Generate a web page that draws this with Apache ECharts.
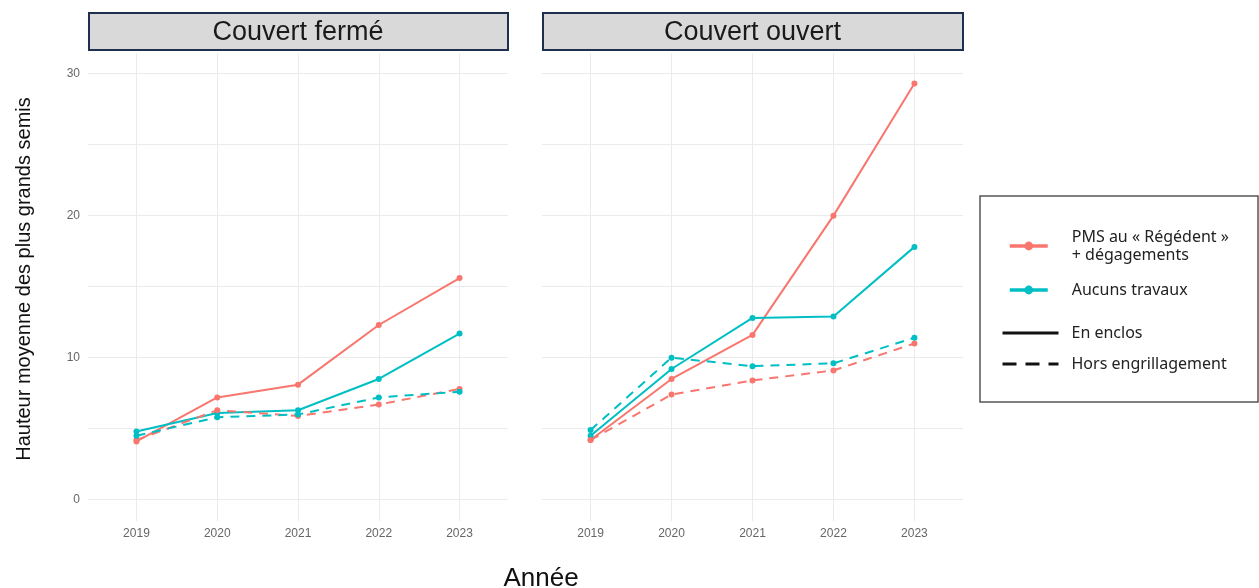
<!DOCTYPE html>
<html>
<head>
<meta charset="utf-8">
<script src="https://cdn.jsdelivr.net/npm/echarts@6/dist/echarts.min.js"></script>
<style>
  html, body { margin: 0; padding: 0; background: #fff; }
  #main { width: 1259px; height: 588px; }
</style>
</head>
<body>
<div id="main"></div>
<script>
// données
var years = [2019, 2020, 2021, 2022, 2023];
var yTicks = [0, 10, 20, 30];
var panels = ['Couvert fermé', 'Couvert ouvert'];

var fermeEnclosPMS = [4.1, 7.2, 8.1, 12.3, 15.6];
var fermeEnclosAucun = [4.8, 6.1, 6.3, 8.5, 11.7];
var fermeHorsPMS = [4.2, 6.3, 5.9, 6.7, 7.8];
var fermeHorsAucun = [4.5, 5.8, 6.0, 7.2, 7.6];

var ouvertEnclosPMS = [4.2, 8.5, 11.6, 20.0, 29.3];
var ouvertEnclosAucun = [4.5, 9.2, 12.8, 12.9, 17.8];
var ouvertHorsPMS = [4.2, 7.4, 8.4, 9.1, 11.0];
var ouvertHorsAucun = [4.9, 10.0, 9.4, 9.6, 11.4];

var nomPMS = 'PMS au « Régédent »\n+ dégagements';
var nomAucun = 'Aucuns travaux';
var nomEnclos = 'En enclos';
var nomHors = 'Hors engrillagement';

var rouge = '#F8766D';
var bleu = '#00BFC4';

function pts(vals) {
    var res = [];
    for (var i = 0; i < years.length; i++) {
        res.push([years[i], vals[i]]);
    }
    return res;
}

function serie(name, color, dashed, idx, vals) {
    return {
        name: name,
        type: 'line',
        xAxisIndex: idx,
        yAxisIndex: idx,
        data: pts(vals),
        symbol: 'circle',
        symbolSize: 6,
        showSymbol: true,
        silent: true,
        itemStyle: { color: color },
        lineStyle: { color: color, width: 2, type: dashed ? [9, 7] : 'solid' }
    };
}

var myChart = echarts.init(document.getElementById('main'));

var grids = [
    { left: 88, top: 53, width: 420, height: 468 },
    { left: 542, top: 53, width: 421, height: 468 }
];

function xAxe(idx) {
    return {
        type: 'value', gridIndex: idx, min: 2018.4, max: 2023.6,
        axisLine: { show: false },
        axisTick: { show: false },
        axisLabel: {
            customValues: years, color: '#666', fontSize: 12, margin: 7, fontFamily: 'Liberation Sans',
            formatter: function (v) { return String(v); }
        },
        splitLine: { show: true, showMinLine: false, showMaxLine: false, lineStyle: { color: '#ebebeb', width: 1 } }
    };
}
function yAxe(idx) {
    return {
        type: 'value', gridIndex: idx, min: -1.5, max: 31.45,
        axisLine: { show: false },
        axisTick: { show: false },
        axisLabel: { show: idx === 0, customValues: yTicks, color: '#666', fontSize: 12, margin: 8, fontFamily: 'Liberation Sans' },
        splitLine: { show: true, showMinLine: false, showMaxLine: false, lineStyle: { color: '#ebebeb', width: 1 } }
    };
}

var graphics = [];
for (var p = 0; p < panels.length; p++) {
    graphics.push({
        type: 'rect',
        shape: { x: grids[p].left + 1, y: 13, width: grids[p].width - 1, height: 37 },
        style: { fill: '#d9d9d9', stroke: '#1f2f4f', lineWidth: 2 }
    });
    graphics.push({
        type: 'text',
        x: grids[p].left + grids[p].width / 2, y: 33,
        style: { text: panels[p], fill: '#1a1a1a', font: '27px "Liberation Sans", Arial, sans-serif', textAlign: 'center', textVerticalAlign: 'middle' }
    });
}
// cadre de la légende
graphics.push({
    type: 'rect',
    shape: { x: 980, y: 196, width: 278, height: 206 },
    style: { fill: '#fff', stroke: '#555', lineWidth: 1.5 },
    z: -1
});
// titre de l'axe y
graphics.push({
    type: 'text', x: 24, y: 279, rotation: Math.PI / 2,
    style: { text: 'Hauteur moyenne des plus grands semis', fill: '#111', font: '20px "Liberation Sans", Arial, sans-serif', textAlign: 'center', textVerticalAlign: 'middle' }
});

function legende(name, top, left, iconW, pad, noDot) {
    var l = {
        data: [name],
        left: left, top: top,
        padding: 0,
        orient: 'vertical',
        selectedMode: false,
        itemWidth: iconW, itemHeight: 11,
        lineStyle: { width: 3.5 },
        textStyle: { color: '#222', fontSize: 16, fontFamily: 'Noto Sans', lineHeight: 18, padding: [0, 0, 0, pad] }
    };
    if (noDot) {
        l.itemStyle = { opacity: 0 };
        l.lineStyle = { width: 3 };
    }
    return l;
}

option = {
    backgroundColor: '#fff',
    animation: false,
    grid: grids,
    xAxis: [xAxe(0), xAxe(1)],
    yAxis: [yAxe(0), yAxe(1)],
    graphic: graphics,
    legend: [
        legende(nomPMS, 228, 1008, 38, 19, false),
        legende(nomAucun, 281, 1008, 38, 19, false),
        legende(nomEnclos, 324, 1001, 56, 8, true),
        legende(nomHors, 355, 1001, 56, 8, true)
    ],
    title: [
        { text: 'Année', left: 536, top: 561, textAlign: 'center',
          textStyle: { fontSize: 26, fontWeight: 'normal', color: '#111', fontFamily: 'Liberation Sans' } }
    ],
    series: [
        serie(nomPMS, rouge, false, 0, fermeEnclosPMS),
        serie(nomAucun, bleu, false, 0, fermeEnclosAucun),
        serie(nomPMS, rouge, true, 0, fermeHorsPMS),
        serie(nomAucun, bleu, true, 0, fermeHorsAucun),
        serie(nomPMS, rouge, false, 1, ouvertEnclosPMS),
        serie(nomAucun, bleu, false, 1, ouvertEnclosAucun),
        serie(nomPMS, rouge, true, 1, ouvertHorsPMS),
        serie(nomAucun, bleu, true, 1, ouvertHorsAucun),
        { name: nomEnclos, type: 'line', data: [], symbol: 'none', itemStyle: { color: '#111' },
          lineStyle: { color: '#111', width: 3, type: 'solid' } },
        { name: nomHors, type: 'line', data: [], symbol: 'none', itemStyle: { color: '#111' },
          lineStyle: { color: '#111', width: 3, type: [14, 9] } }
    ]
};

myChart.setOption(option);
window.addEventListener("resize", function () {
    myChart.resize();
});
</script>
</body>
</html>
